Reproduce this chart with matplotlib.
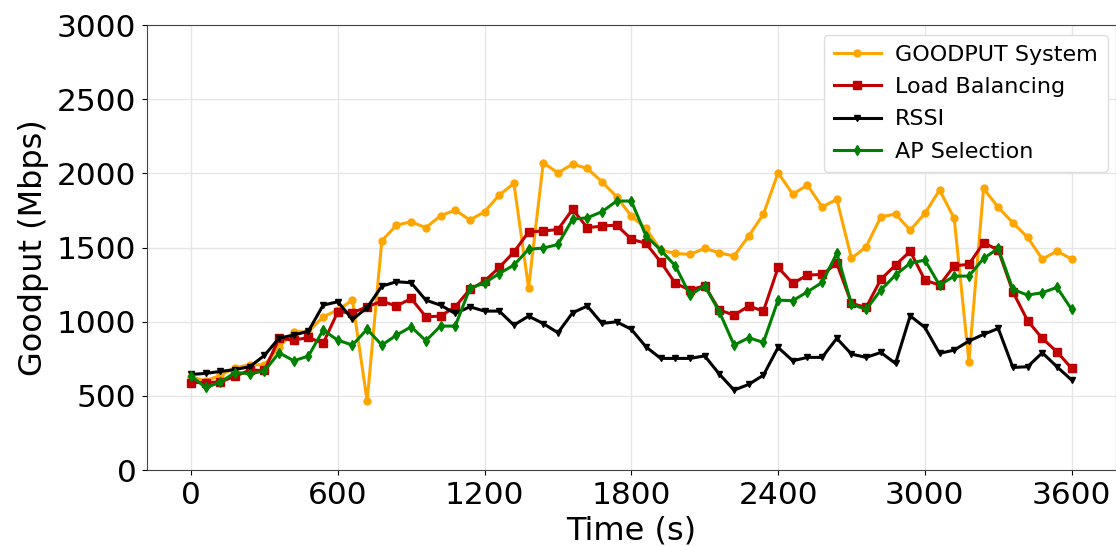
import numpy as np
import matplotlib
matplotlib.use("Agg")
import matplotlib.pyplot as plt

# time axis: one sample every 60 s over an hour
time_s = np.arange(0, 3601, 60)

goodput_system = [630, 600, 640, 690, 710, 710, 831, 933, 933, 1034,
                  1079, 1146, 465, 1546, 1652, 1674, 1634, 1715, 1753, 1686,
                  1742, 1854, 1933, 1229, 2072, 2004, 2063, 2034, 1944, 1843,
                  1712, 1629, 1483, 1461, 1454, 1495, 1465, 1443, 1578, 1726,
                  2004, 1861, 1921, 1775, 1825, 1427, 1506, 1708, 1726, 1618,
                  1730, 1888, 1697, 730, 1899, 1771, 1667, 1569, 1423, 1476,
                  1423]

load_balancing = [590, 590, 595, 632, 674, 672, 888, 876, 894, 854,
                  1067, 1061, 1101, 1139, 1106, 1157, 1034, 1038, 1101, 1218,
                  1274, 1366, 1470, 1605, 1612, 1622, 1758, 1634, 1645, 1652,
                  1557, 1528, 1404, 1259, 1214, 1243, 1079, 1045, 1106, 1072,
                  1366, 1259, 1315, 1319, 1393, 1124, 1097, 1286, 1382, 1476,
                  1281, 1247, 1377, 1387, 1533, 1483, 1202, 1007, 888, 798,
                  686]

rssi = [645, 652, 665, 678, 697, 773, 890, 910, 937, 1112,
        1135, 1016, 1095, 1240, 1270, 1263, 1146, 1112, 1056, 1101,
        1072, 1072, 978, 1038, 988, 926, 1061, 1106, 989, 1000,
        949, 831, 753, 753, 753, 770, 647, 539, 578, 640,
        827, 737, 760, 760, 888, 782, 760, 793, 719, 1040,
        962, 787, 809, 870, 915, 955, 692, 697, 791, 697,
        607]

ap_selection = [635, 557, 592, 658, 650, 668, 791, 737, 769, 944,
                876, 843, 950, 843, 910, 966, 872, 971, 971, 1225,
                1262, 1325, 1382, 1489, 1497, 1521, 1692, 1701, 1742, 1814,
                1814, 1580, 1483, 1377, 1180, 1243, 1067, 843, 892, 861,
                1146, 1142, 1202, 1265, 1461, 1119, 1083, 1214, 1315, 1395,
                1416, 1247, 1308, 1308, 1427, 1495, 1218, 1180, 1196, 1232,
                1083]

xticks = [0, 600, 1200, 1800, 2400, 3000, 3600]
yticks = [0, 500, 1000, 1500, 2000, 2500, 3000]

fig = plt.figure(figsize=(11.16, 5.46), dpi=100)
ax = fig.add_axes([0.1317, 0.139, 0.868, 0.815])

ax.plot(time_s, goodput_system, color="orange", marker="o", markersize=5,
        linewidth=2.2, label="GOODPUT System")
ax.plot(time_s, load_balancing, color="#c00000", marker="s", markersize=5.5,
        linewidth=2.2, label="Load Balancing")
ax.plot(time_s, rssi, color="black", marker="v", markersize=5,
        linewidth=2.2, label="RSSI")
ax.plot(time_s, ap_selection, color="green", marker="d", markersize=5,
        linewidth=2.2, label="AP Selection")

ax.set_xlim(-180, 3780)
ax.set_ylim(0, 3000)
ax.set_xticks(xticks)
ax.set_yticks(yticks)
ax.tick_params(axis="both", labelsize=22.5, pad=4)
ax.grid(True, color="#e6e6e6", linewidth=1)
ax.set_axisbelow(True)
for s in ax.spines.values():
    s.set_color("#444444")

ax.set_xlabel("Time (s)", fontsize=23, labelpad=4.5)
ax.set_ylabel("Goodput (Mbps)", fontsize=23, labelpad=6)

ax.legend(loc="upper right", fontsize=16, framealpha=1, edgecolor="#dddddd",
          handlelength=2.1, handletextpad=0.65, borderpad=0.45,
          labelspacing=0.55, borderaxespad=0,
          bbox_to_anchor=(0.992, 0.978))

fig.savefig("out.png", dpi=100)
